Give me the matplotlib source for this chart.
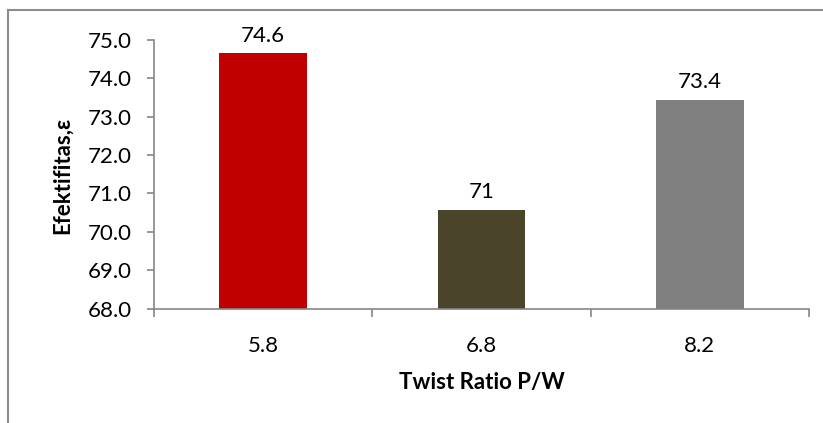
import numpy as np
import matplotlib.pyplot as plt
from matplotlib.lines import Line2D

# data
categories = ["5.8", "6.8", "8.2"]
values = [74.65, 70.57, 73.44]
value_labels = ["74.6", "71", "73.4"]
bar_colors = ["#C00000", "#4A452A", "#808080"]

plt.rcParams["font.family"] = ["Lato", "DejaVu Sans"]
W, H, DPI = 823, 423, 100

fig = plt.figure(figsize=(W / DPI, H / DPI), dpi=DPI)
ax = fig.add_axes([154 / W, 1 - 308.5 / H, (809 - 154) / W, (308.5 - 40) / H])

x = np.arange(len(categories))
ax.bar(x, values, width=0.4, color=bar_colors, bottom=0, zorder=2)

ax.set_ylim(68, 75)
ax.set_xlim(-0.5, len(categories) - 0.5)
yt = np.arange(68, 75.01, 1.0)
ax.set_yticks(yt)
ax.set_yticklabels([f"{v:.1f}" for v in yt], fontsize=16)

# boundary ticks (major) and centred labels (minor)
ax.set_xticks(np.arange(-0.5, len(categories), 1.0))
ax.set_xticklabels([])
ax.set_xticks(x, minor=True)
ax.set_xticklabels(categories, minor=True, fontsize=16)
ax.tick_params(axis="x", which="major", length=6, color="#868686", width=1.2)
ax.tick_params(axis="x", which="minor", length=0, pad=20)
ax.tick_params(axis="y", length=5, color="#868686", width=1.2, pad=11)

for s in ["top", "right"]:
    ax.spines[s].set_visible(False)
for s in ["left", "bottom"]:
    ax.spines[s].set_color("#868686")
    ax.spines[s].set_linewidth(1.2)

for xi, v, lab in zip(x, values, value_labels):
    ax.annotate(lab, (xi, v), xytext=(0, 8.5), textcoords="offset points",
                ha="center", va="baseline", fontsize=16, clip_on=False)

fig.text(482 / W, 1 - 382 / H, "Twist Ratio P/W", ha="center", va="center",
         fontsize=16, fontweight="bold")
fig.text(62 / W, 1 - 175 / H, "Efektifitas,ε", ha="center", va="center",
         rotation=90, fontsize=16, fontweight="bold")

# outer chart border (only top and left visible in the crop)
fig.add_artist(Line2D([8 / W, 8 / W], [0, 1 - 10 / H], color="#8c8c8c", lw=1.5,
                      transform=fig.transFigure))
fig.add_artist(Line2D([8 / W, 1], [1 - 10 / H, 1 - 10 / H], color="#8c8c8c", lw=1.5,
                      transform=fig.transFigure))

fig.savefig("out.png", dpi=DPI)
